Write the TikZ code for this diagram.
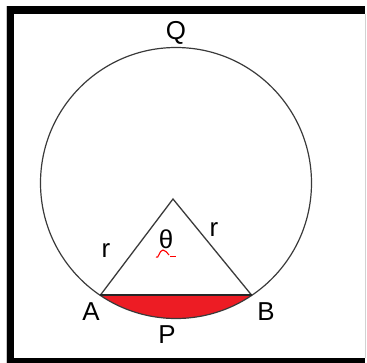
\documentclass[tikz,border=0pt]{standalone}
\usepackage{fontspec}
\setmainfont{Liberation Sans}
\usetikzlibrary{calc}
\definecolor{segred}{HTML}{ED1C24}
\definecolor{linegray}{HTML}{3A3A3A}
\begin{document}
\begin{tikzpicture}[x=1bp, y=-1bp,
    lbl/.style={font=\fontsize{26}{26}\selectfont, inner sep=0pt}]

  % Canvas: 367 x 363 px, y grows downward
  \fill[white] (0,0) rectangle (367,363);
  \useasboundingbox (0,0) rectangle (367,363);

  % Frame (thick on left, top and bottom)
  \fill[black] (6.7,  6.0) rectangle ( 14.3, 363);
  \fill[black] (6.7,  6.0) rectangle (365.0, 14.0);
  \fill[black] (6.7,358.0) rectangle (365.0, 363);
  \draw[gray!45, line width=0.8pt] (6.2, 6) -- (6.2, 363);
  \draw[gray!35, line width=0.8pt] (365.5, 14) -- (365.5, 358);

  % Points
  \coordinate (C) at (176,183);                % circle centre
  \coordinate (O) at (173,199);                % apex of the triangle
  \coordinate (A) at ($(C)+(124:135.5)$);
  \coordinate (B) at ($(C)+(56:135.5)$);

  % Segment APB
  \fill[segred] (A) arc[start angle=124, end angle=56, radius=135.5] -- cycle;

  % Circle
  \draw[linegray, line width=1.2pt] (C) circle[radius=135.5];

  % Triangle
  \draw[linegray, line width=1.3pt] (A) -- (O) -- (B);
  \draw[black!85, line width=2pt] (A) -- (B);

  % Labels
  \node[lbl] (q)     at (176, 33) {Q};
  \node[lbl] (a)     at ( 91,312) {A};
  \node[lbl] (b)     at (266,312) {B};
  \node[lbl] (p)     at (167,335) {P};
  \node[lbl] (rl)    at (106,251) {r};
  \node[lbl] (rr)    at (214,230) {r};
  \node[lbl] (theta) at (166,239) {θ};

  % Red squiggle under theta
  \draw[red, line width=1.1pt] (156,257) to[out=-50, in=180] (163,250)
    to[out=0, in=140] (169,255);
  \draw[red, line width=1.1pt] (170,256.5) -- (176,256.5);

\end{tikzpicture}
\end{document}
